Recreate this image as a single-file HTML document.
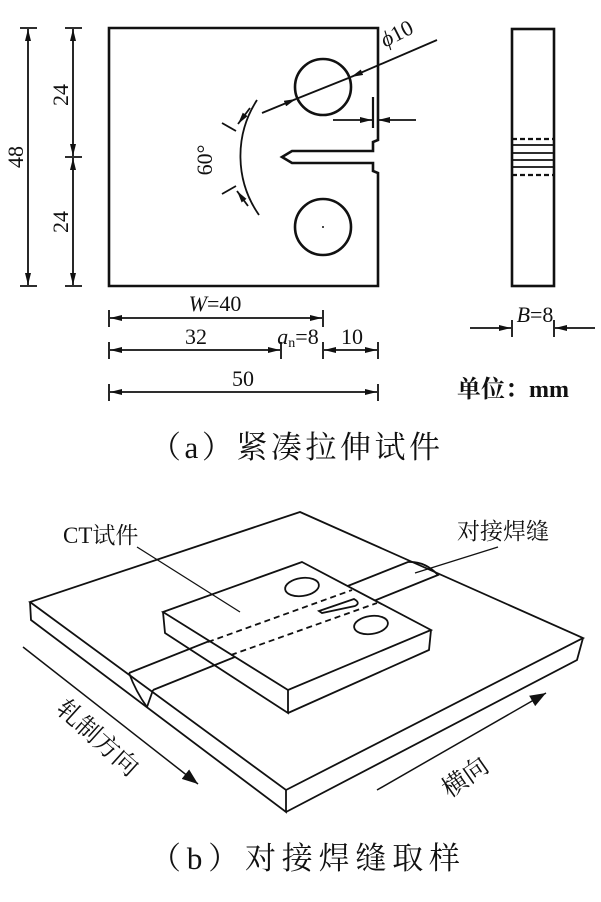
<!DOCTYPE html>
<html><head><meta charset="utf-8"><style>
body{margin:0;background:#fff;width:601px;height:902px;overflow:hidden}
svg{display:block}
text{font-family:"Liberation Serif","Noto Serif CJK SC",serif;fill:#111}
</style></head><body>
<svg width="601" height="902" viewBox="0 0 601 902" xmlns="http://www.w3.org/2000/svg">
<defs>
<marker id="a" markerWidth="12" markerHeight="6" refX="12" refY="3" orient="auto-start-reverse" markerUnits="userSpaceOnUse"><path d="M0,0 L12,3 L0,6z" fill="#111"/></marker>
<marker id="b" markerWidth="16" markerHeight="12" refX="16" refY="6" orient="auto" markerUnits="userSpaceOnUse"><path d="M0,0 L16,6 L0,12z" fill="#111"/></marker>
</defs>
<g stroke="#111" fill="none" stroke-width="2.6">
<path d="M378,28 L109,28 L109,286 L378,286 L378,173 L373,171 L373,163 L292,163 L282,157 L292,151 L373,151 L373,142 L378,140 Z"/>
<circle cx="323" cy="87" r="28"/>
<circle cx="323" cy="227" r="28"/>
</g>
<circle cx="323" cy="227" r="1" fill="#111"/>
<g stroke="#111" stroke-width="1.8" fill="none">
<line x1="28" y1="29" x2="28" y2="285" marker-start="url(#a)" marker-end="url(#a)"/>
<line x1="20" y1="28" x2="37" y2="28"/><line x1="20" y1="286" x2="37" y2="286"/>
<line x1="73" y1="29" x2="73" y2="156" marker-start="url(#a)" marker-end="url(#a)"/>
<line x1="73" y1="158" x2="73" y2="285" marker-start="url(#a)" marker-end="url(#a)"/>
<line x1="65" y1="28" x2="82" y2="28"/><line x1="65" y1="157" x2="82" y2="157"/><line x1="65" y1="286" x2="82" y2="286"/>
<path d="M257,100 A103,103 0 0 0 259,215"/>
<line x1="250" y1="108" x2="238" y2="124" marker-end="url(#a)"/>
<line x1="248" y1="206" x2="237" y2="191" marker-end="url(#a)"/>
<line x1="222" y1="123" x2="236" y2="131"/><line x1="222" y1="194" x2="236" y2="186"/>
<line x1="262" y1="113" x2="296" y2="99" marker-end="url(#a)"/>
<line x1="437" y1="40" x2="351" y2="77" marker-end="url(#a)"/>
<line x1="296" y1="99" x2="351" y2="77"/>
<line x1="333" y1="120" x2="372" y2="120" marker-end="url(#a)"/>
<line x1="416" y1="120" x2="378" y2="120" marker-end="url(#a)"/>
<line x1="373" y1="97" x2="373" y2="128" stroke-width="2.2"/>
<line x1="110" y1="318" x2="322" y2="318" marker-start="url(#a)" marker-end="url(#a)"/>
<line x1="109" y1="310" x2="109" y2="327"/><line x1="323" y1="310" x2="323" y2="327"/>
<line x1="110" y1="350" x2="280" y2="350" marker-start="url(#a)" marker-end="url(#a)"/>
<line x1="324" y1="350" x2="377" y2="350" marker-start="url(#a)" marker-end="url(#a)"/>
<line x1="109" y1="342" x2="109" y2="359"/><line x1="281" y1="342" x2="281" y2="359"/><line x1="323" y1="342" x2="323" y2="359"/><line x1="378" y1="342" x2="378" y2="359"/>
<line x1="110" y1="392" x2="377" y2="392" marker-start="url(#a)" marker-end="url(#a)"/>
<line x1="109" y1="384" x2="109" y2="401"/><line x1="378" y1="384" x2="378" y2="401"/>
<rect x="512" y="29" width="42" height="257" stroke-width="2.6"/>
<line x1="512" y1="139" x2="554" y2="139" stroke-dasharray="5,3" stroke-width="2.2"/>
<line x1="512" y1="145" x2="554" y2="145"/><line x1="512" y1="153" x2="554" y2="153"/>
<line x1="512" y1="160" x2="554" y2="160"/><line x1="512" y1="167" x2="554" y2="167"/>
<line x1="512" y1="175" x2="554" y2="175" stroke-dasharray="5,3" stroke-width="2.2"/>
<line x1="470" y1="328" x2="511" y2="328" marker-end="url(#a)"/>
<line x1="595" y1="328" x2="555" y2="328" marker-end="url(#a)"/>
<line x1="512" y1="320" x2="512" y2="337"/><line x1="554" y1="320" x2="554" y2="337"/>
</g>
<g font-size="22">
<text transform="translate(23,157) rotate(-90)" text-anchor="middle">48</text>
<text transform="translate(68,95) rotate(-90)" text-anchor="middle">24</text>
<text transform="translate(68,222) rotate(-90)" text-anchor="middle">24</text>
<text transform="translate(212,160) rotate(-90)" text-anchor="middle">60°</text>
<text transform="translate(400,40) rotate(-27)" text-anchor="middle"><tspan font-style="italic">ϕ</tspan>10</text>
<text x="215" y="311" text-anchor="middle"><tspan font-style="italic">W</tspan>=40</text>
<text x="196" y="344" text-anchor="middle">32</text>
<text x="298" y="344" text-anchor="middle"><tspan font-style="italic">a</tspan><tspan font-size="14" dy="3">n</tspan><tspan dy="-3">=8</tspan></text>
<text x="352" y="344" text-anchor="middle">10</text>
<text x="243" y="386" text-anchor="middle">50</text>
<text x="535" y="322" text-anchor="middle"><tspan font-style="italic">B</tspan>=8</text>
<text x="457" y="397" font-weight="bold" font-size="24">单位：mm</text>
</g>
<text x="150" y="458" font-size="31" textLength="290" lengthAdjust="spacing">（a）紧凑拉伸试件</text>
<text x="150" y="869" font-size="31" textLength="310" lengthAdjust="spacing">（b）对接焊缝取样</text>
<g stroke="#111" stroke-width="1.8" fill="none">
<path d="M300,512 L583,638 L286,790 L30,602 Z" fill="#fff"/>
<path d="M30,602 L31,620 L286,812 L286,790"/>
<path d="M286,812 L577,660 L583,638"/>
<path d="M129,673 L408,562 Q425,561 438,575 L153,690"/>
<path d="M129,673 Q136,692 147,707"/>
<path d="M153,690 L147,707"/>
<path d="M302,562 L431,630 L288,690 L163,612 Z" fill="#fff"/>
<path d="M163,612 L165,633 L288,713 L288,690"/>
<path d="M288,713 L429,650 L431,630"/>
<ellipse cx="302" cy="587" rx="17" ry="9" transform="rotate(-8 302 587)"/>
<ellipse cx="371" cy="625" rx="17" ry="9" transform="rotate(-8 371 625)"/>
<path d="M319,611 L354,599 Q361,603 355,606 L322,613 Z"/>
<path d="M208,642 L352,590" stroke-dasharray="6,4"/>
<path d="M231,655 L377,603" stroke-dasharray="6,4"/>
<line x1="137" y1="547" x2="240" y2="612" stroke-width="1.3"/>
<line x1="498" y1="547" x2="415" y2="573" stroke-width="1.3"/>
<line x1="23" y1="647" x2="198" y2="784" stroke-width="1.5" marker-end="url(#b)"/>
<line x1="377" y1="790" x2="546" y2="693" stroke-width="1.5" marker-end="url(#b)"/>
</g>
<g font-size="23">
<text x="63" y="543">CT试件</text>
<text x="457" y="539">对接焊缝</text>
<text transform="translate(92,744) rotate(42)" text-anchor="middle" font-size="25">轧制方向</text>
<text transform="translate(470,784) rotate(-35)" text-anchor="middle" font-size="25">横向</text>
</g>
</svg>
</body></html>
